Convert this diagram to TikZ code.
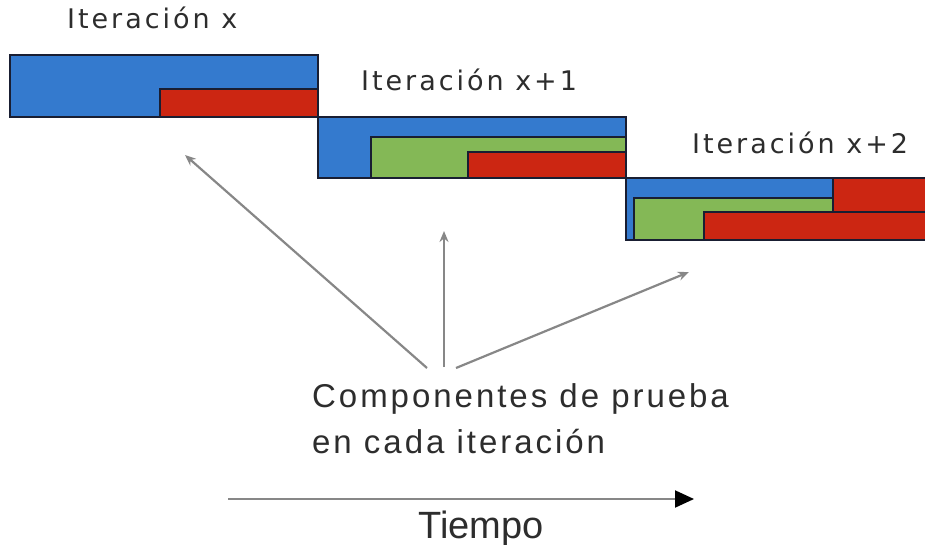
\documentclass[tikz,border=0pt]{standalone}
\usepackage{fontspec}
\setmainfont{Liberation Sans}
\newfontfamily\titlefont[LetterSpace=11]{DejaVu Sans}
\newfontfamily\compfont[LetterSpace=9]{Liberation Sans}
\usetikzlibrary{arrows.meta}
\definecolor{blueb}{RGB}{52,122,206}
\definecolor{redb}{RGB}{204,38,18}
\definecolor{greenb}{RGB}{132,184,86}
\definecolor{edgeb}{RGB}{25,30,50}
\definecolor{txtgray}{RGB}{45,45,45}
\definecolor{arrgray}{RGB}{135,135,135}
\begin{document}
\begin{tikzpicture}[x=1pt,y=-1pt,
  blockb/.style={fill=blueb,draw=edgeb,line width=1.4pt},
  blockr/.style={fill=redb,draw=edgeb,line width=1.4pt},
  blockg/.style={fill=greenb,draw=edgeb,line width=1.4pt},
  ttl/.style={anchor=base west,inner sep=0pt,text=txtgray,font=\titlefont\fontsize{27}{32}\selectfont},
  comp/.style={anchor=base west,inner sep=0pt,text=txtgray,font=\compfont\fontsize{33}{40}\selectfont},
  pointer/.style={draw=arrgray,line width=2.2pt,-{Stealth[length=11pt,width=9pt]}}]
\useasboundingbox (0,0) rectangle (925,545);
\begin{scope}
\clip (0,0) rectangle (925,545);
% iteration x
\draw[blockb] (10,55) rectangle (318,117);
\draw[blockr] (160,89) rectangle (318,117);
% iteration x+1
\draw[blockb] (318,117) rectangle (626,178);
\draw[blockg] (371,137) rectangle (626,178);
\draw[blockr] (468,152) rectangle (626,178);
% iteration x+2
\draw[blockb] (626,178) rectangle (833,240);
\draw[blockg] (634,198) rectangle (833,240);
\draw[blockr] (833,178) rectangle (930,212);
\draw[blockr] (704,212) rectangle (930,240);
\end{scope}
% titles
\node[ttl] (t0) at (67,29) {Iteración x};
\node[ttl] (t1) at (361,91) {Iteración x+1};
\node[ttl] (t2) at (692,154) {Iteración x+2};
% components text
\node[comp] (c1) at (312,407) {Componentes de prueba};
\node[comp] (c2) at (312,453) {en cada iteración};
% pointer arrows
\coordinate (s1) at (427,368);
\coordinate (e1) at (185,155);
\coordinate (s2) at (444,367);
\coordinate (e2) at (444,231);
\coordinate (s3) at (456,368);
\coordinate (e3) at (689,272);
\draw[pointer] (s1) -- (e1);
\draw[pointer] (s2) -- (e2);
\draw[pointer] (s3) -- (e3);
% time arrow
\coordinate (ts) at (228,499);
\coordinate (te) at (694,499);
\draw[draw=arrgray,line width=2pt,-{Triangle[length=19pt,width=17pt,color=black]}] (ts) -- (te);
\node[anchor=base west,inner sep=0pt,text=txtgray,font=\fontsize{38}{44}\selectfont] (tiempo) at (418,538) {Tiempo};
\end{tikzpicture}
\end{document}
